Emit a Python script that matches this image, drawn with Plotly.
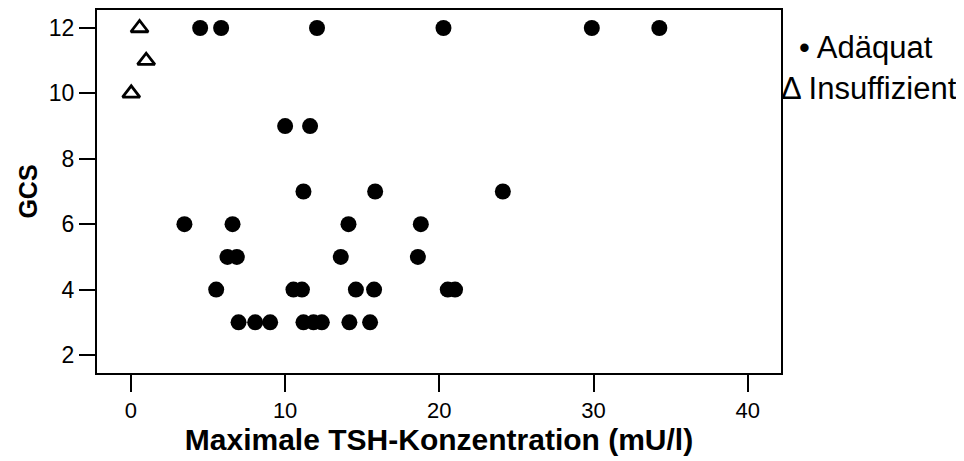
import plotly.graph_objects as go

# Adäquat (filled circles)
adaequat_tsh = [4.49, 5.85, 12.07, 20.27, 29.89, 34.27,
                10.0, 11.62,
                11.19, 15.84, 24.12,
                3.47, 6.59, 14.11, 18.8,
                6.26, 6.87, 13.61, 18.61,
                5.53, 10.54, 11.09, 14.59, 15.77, 20.55, 21.02,
                6.98, 8.06, 9.03, 11.19, 11.84, 12.38, 14.17, 15.51]
adaequat_gcs = [12, 12, 12, 12, 12, 12,
                9, 9,
                7, 7, 7,
                6, 6, 6, 6,
                5, 5, 5, 5,
                4, 4, 4, 4, 4, 4, 4,
                3, 3, 3, 3, 3, 3, 3, 3]

# Insuffizient (open triangles)
insuff_tsh = [0.56, 0.99, 0.02]
insuff_gcs = [12, 11, 10]

x_ticks = [0, 10, 20, 30, 40]
y_ticks = [2, 4, 6, 8, 10, 12]
legend_texts = ["• Adäquat", "Δ Insuffizient"]

FONT = "Liberation Sans, Arial, sans-serif"
W, H = 964, 461
OFF = 8  # default page body margin
ML, MR, MT, MB = 97 - OFF, W - 781 + OFF, 10 - OFF, H - 373 + OFF

fig = go.Figure()
fig.add_trace(go.Scatter(
    x=adaequat_tsh, y=adaequat_gcs, mode="markers", name="Adäquat",
    marker=dict(symbol="circle", size=16, color="black", line=dict(width=0)),
))
fig.add_trace(go.Scatter(
    x=insuff_tsh, y=insuff_gcs, mode="markers", name="Insuffizient",
    marker=dict(symbol="triangle-up-open", size=15, color="black",
                line=dict(width=2.8, color="black")),
))

fig.update_layout(
    width=W, height=H,
    margin=dict(l=ML, r=MR, t=MT, b=MB, autoexpand=False),
    paper_bgcolor="white", plot_bgcolor="white",
    showlegend=False,
    font=dict(family=FONT, color="black", size=20),
    xaxis=dict(
        range=[-2.2, 42.16], tickvals=x_ticks, ticktext=[str(v) for v in x_ticks],
        showline=True, linecolor="black", linewidth=2, mirror=True,
        ticks="outside", ticklen=17, tickwidth=2, tickcolor="black",
        showgrid=False, zeroline=False,
        tickfont=dict(size=22, family=FONT),
        title=dict(text="<b>Maximale TSH-Konzentration (mU/l)</b>",
                   font=dict(size=30, family=FONT), standoff=7),
    ),
    yaxis=dict(
        range=[1.45, 12.55], tickvals=y_ticks, ticktext=[str(v) for v in y_ticks],
        showline=True, linecolor="black", linewidth=2, mirror=True,
        ticks="outside", ticklen=16, tickwidth=2, tickcolor="black",
        showgrid=False, zeroline=False,
        tickfont=dict(size=23, family=FONT),
        title=dict(text="<b>GCS</b>", font=dict(size=25, family=FONT), standoff=4),
    ),
)

pw = W - ML - MR
ph = H - MT - MB
legend_pos = [(797, 47), (779, 89)]  # screen pixel positions (left, middle)
for txt, (sx, sy) in zip(legend_texts, legend_pos):
    fig.add_annotation(
        x=(sx - OFF - ML) / pw, y=1 - (sy - OFF - MT) / ph,
        xref="paper", yref="paper", text=txt,
        showarrow=False, xanchor="left", yanchor="middle",
        font=dict(size=31, family=FONT),
    )

fig.write_html("out.html")
